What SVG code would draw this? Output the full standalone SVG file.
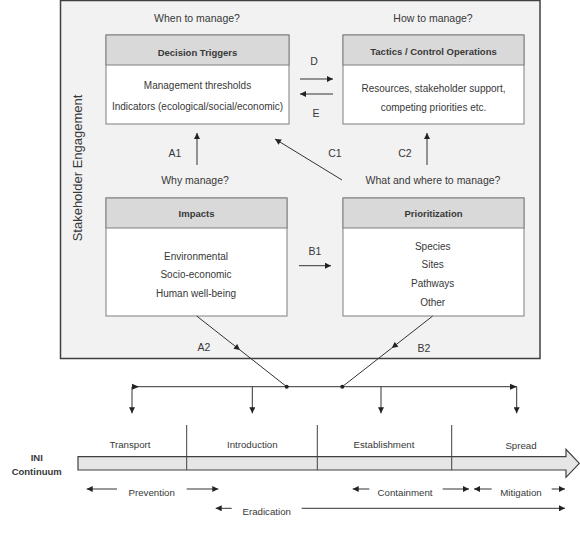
<svg xmlns="http://www.w3.org/2000/svg" width="580" height="534" viewBox="0 0 580 534">
<defs>
<style>
.t{font-family:"Liberation Sans",Arial,sans-serif;fill:#383838;text-anchor:middle}
.q{font-size:10.5px}
.h{font-size:9.5px;font-weight:bold}
.b{font-size:10px}
.s{font-size:9.7px}
.hdr{fill:#d9d9d9;stroke:#7f7f7f;stroke-width:1}
.bd{fill:#fff;stroke:#7f7f7f;stroke-width:1}
.c{stroke:#333;stroke-width:1;fill:none}
.a{marker-end:url(#ah)}
</style>
<marker id="ah" viewBox="0 0 10 10" refX="10" refY="5" markerWidth="7" markerHeight="6" orient="auto-start-reverse" markerUnits="userSpaceOnUse">
<path d="M0,0 L10,5 L0,10 z" fill="#222"/>
</marker>
</defs>
<rect width="580" height="534" fill="#fff"/>
<g id="panel">
<rect x="60.5" y="0.5" width="479.5" height="358" fill="#f2f2f2" stroke="#404040" stroke-width="1.5"/>
<text class="t" font-size="13" transform="translate(82,168) rotate(-90)">Stakeholder Engagement</text>
<text class="t q" x="197" y="21.5">When to manage?</text>
<text class="t q" x="433" y="21.5">How to manage?</text>
<text class="t q" x="195" y="184">Why manage?</text>
<text class="t q" x="433" y="184">What and where to manage?</text>
</g>
<g id="decision-triggers">
<rect class="bd" x="106" y="35" width="183" height="89"/>
<rect class="hdr" x="106" y="35" width="183" height="30"/>
<text class="t h" x="197.5" y="55.5">Decision Triggers</text>
<text class="t b" x="197.5" y="88.5">Management thresholds</text>
<text class="t b" x="197.5" y="109.5">Indicators (ecological/social/economic)</text>
</g>
<g id="tactics">
<rect class="bd" x="343" y="35" width="181" height="89"/>
<rect class="hdr" x="343" y="35" width="181" height="30"/>
<text class="t h" x="433.5" y="54.5">Tactics / Control Operations</text>
<text class="t b" x="433.5" y="91.5">Resources, stakeholder support,</text>
<text class="t b" x="433.5" y="110.5">competing priorities etc.</text>
</g>
<g id="impacts">
<rect class="bd" x="106" y="198" width="181" height="118"/>
<rect class="hdr" x="106" y="198" width="181" height="30"/>
<text class="t h" x="196.5" y="217">Impacts</text>
<text class="t b" x="196" y="259.5">Environmental</text>
<text class="t b" x="196" y="278">Socio-economic</text>
<text class="t b" x="196" y="296.5">Human well-being</text>
</g>
<g id="prioritization">
<rect class="bd" x="343" y="198" width="181" height="118"/>
<rect class="hdr" x="343" y="198" width="181" height="30"/>
<text class="t h" x="433.5" y="216.5">Prioritization</text>
<text class="t b" x="432.7" y="249.5">Species</text>
<text class="t b" x="432.7" y="268">Sites</text>
<text class="t b" x="432.7" y="286.5">Pathways</text>
<text class="t b" x="432.7" y="305.5">Other</text>
</g>
<g id="continuum">
<path d="M78,456.7 L566,456.7 L566,449.3 L579.3,463.3 L566,477.3 L566,470 L78,470 Z" fill="#e6e6e6" stroke="#404040" stroke-width="1.2"/>
<path d="M186.7,425 V470 M317.3,425 V470 M451.7,425 V470" stroke="#404040" stroke-width="1" fill="none"/>
<text class="t s" x="130" y="448">Transport</text>
<text class="t s" x="252.3" y="448">Introduction</text>
<text class="t s" x="384" y="448">Establishment</text>
<text class="t s" x="521" y="448.5">Spread</text>
<text class="t" font-size="9.5" font-weight="bold" x="36.7" y="460.5">INI</text>
<text class="t" font-size="9.5" font-weight="bold" x="36.7" y="474.5">Continuum</text>
</g>
<g id="strategies">
<text class="t s" x="151.7" y="495.5">Prevention</text>
<text class="t s" x="405" y="495.5">Containment</text>
<text class="t s" x="521" y="495.5">Mitigation</text>
<text class="t s" x="266.7" y="514.5">Eradication</text>
</g>
<g id="connectors">
<line class="c a" x1="300" y1="79" x2="333" y2="79"/>
<line class="c a" x1="333" y1="94" x2="300" y2="94"/>
<line class="c a" x1="197" y1="165" x2="197" y2="133"/>
<line class="c a" x1="342" y1="180" x2="275" y2="139"/>
<line class="c a" x1="427" y1="165" x2="427" y2="133"/>
<line class="c a" x1="299" y1="265.7" x2="331" y2="265.7"/>
<line class="c a" x1="196.7" y1="316" x2="240" y2="350"/>
<line class="c" x1="240" y1="350" x2="286.7" y2="386.7"/>
<line class="c a" x1="432.7" y1="316" x2="391.8" y2="348"/>
<line class="c" x1="391.8" y1="348" x2="342.3" y2="386.7"/>
<line class="c" x1="132" y1="386.7" x2="516.7" y2="386.7"/>
<path d="M139,386.7 L132,383.7 L132,389.7 Z" fill="#222"/>
<path d="M510,383.7 L517,386.7 L510,389.7 Z" fill="#222"/>
<line class="c a" x1="132" y1="386.7" x2="132" y2="413.3"/>
<line class="c a" x1="252.3" y1="386.7" x2="252.3" y2="413.3"/>
<line class="c a" x1="381" y1="386.7" x2="381" y2="413.3"/>
<line class="c a" x1="516.7" y1="386.7" x2="516.7" y2="413.3"/>
<circle cx="286.7" cy="386.7" r="2" fill="#222"/>
<circle cx="342.3" cy="386.7" r="2" fill="#222"/>
<line class="c a" x1="117" y1="489" x2="86.7" y2="489"/>
<line class="c a" x1="186.7" y1="489" x2="218.3" y2="489"/>
<line class="c a" x1="369.3" y1="489" x2="352.7" y2="489"/>
<line class="c a" x1="442.7" y1="489" x2="469" y2="489"/>
<line class="c a" x1="491.7" y1="489" x2="474" y2="489"/>
<line class="c a" x1="551.7" y1="489" x2="565" y2="489"/>
<line class="c a" x1="231.7" y1="508.3" x2="215.7" y2="508.3"/>
<line class="c a" x1="301.7" y1="508.3" x2="565" y2="508.3"/>
<text class="t q" x="314" y="65">D</text>
<text class="t q" x="316" y="117">E</text>
<text class="t q" x="175" y="157">A1</text>
<text class="t q" x="335" y="157">C1</text>
<text class="t q" x="405" y="157">C2</text>
<text class="t q" x="315" y="255">B1</text>
<text class="t q" x="204" y="350.5">A2</text>
<text class="t q" x="424" y="352">B2</text>
</g>
</svg>
